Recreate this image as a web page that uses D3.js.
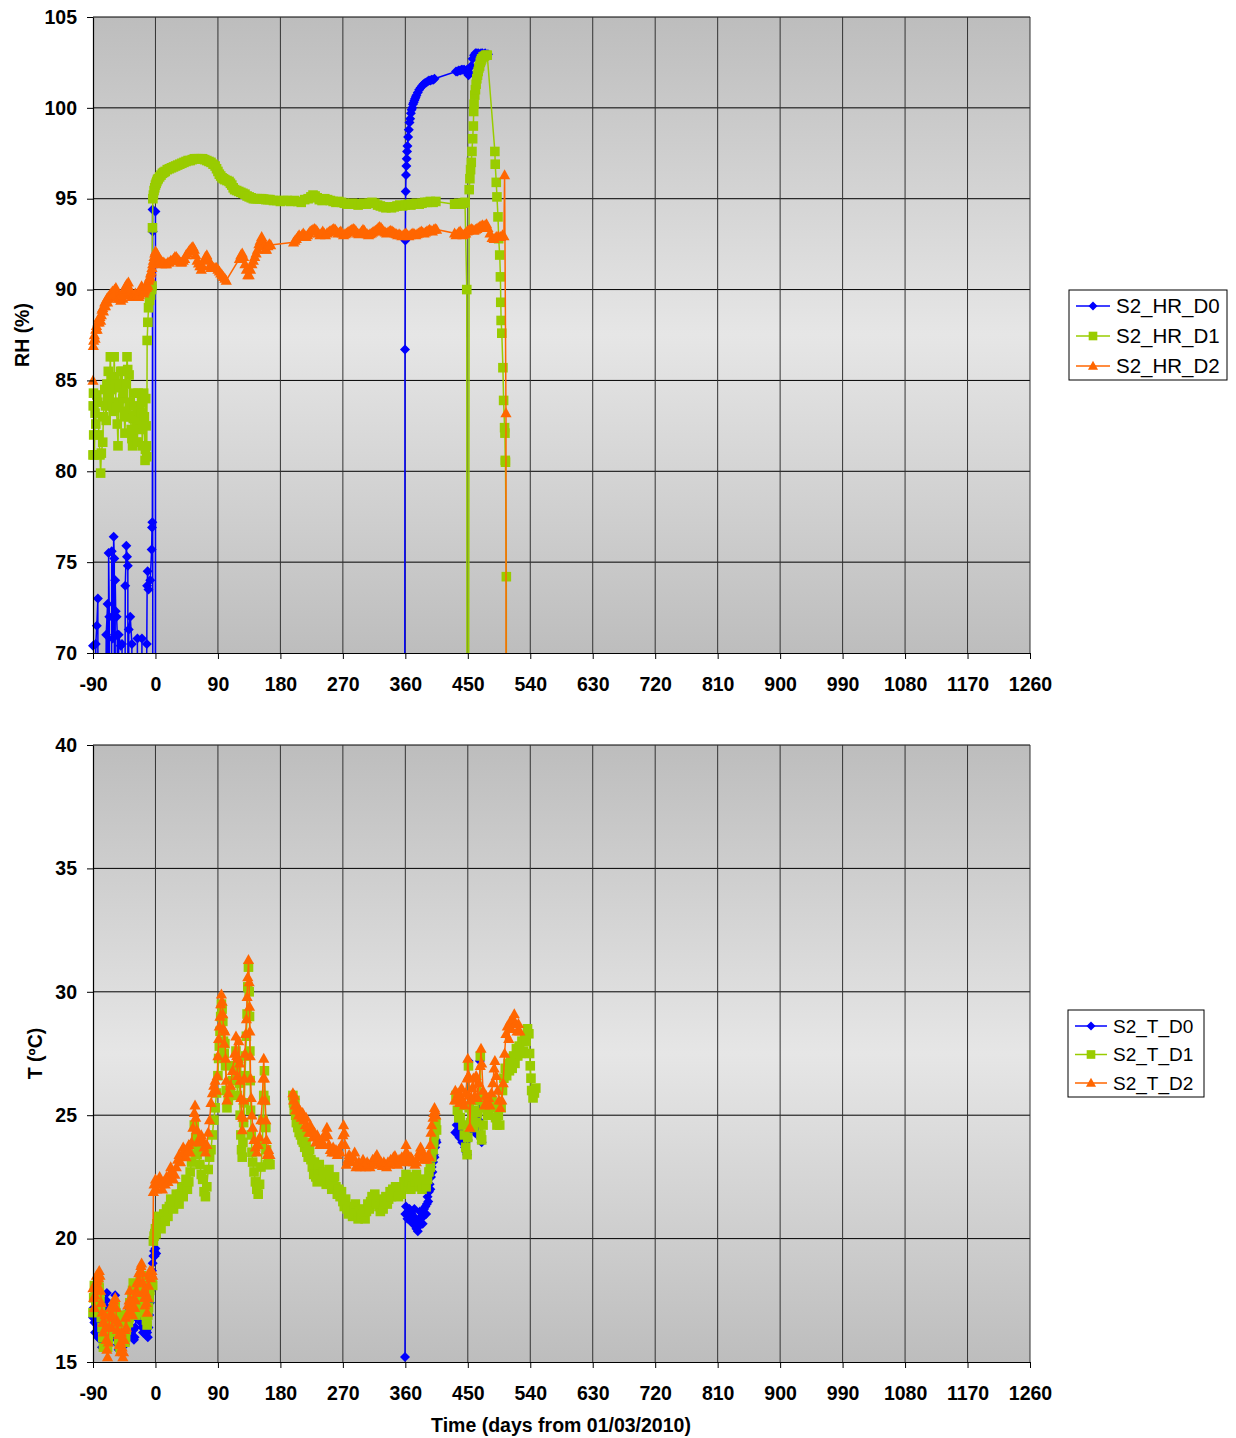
<!DOCTYPE html>
<html><head><meta charset="utf-8">
<script src="https://cdn.jsdelivr.net/npm/d3@7"></script>
<style>body{margin:0;background:#fff}</style>
</head><body>
<script>
// Axis ticks
const xTicks = [-90,0,90,180,270,360,450,540,630,720,810,900,990,1080,1170,1260];
const rhTicks = [70,75,80,85,90,95,100,105];
const tTicks = [15,20,25,30,35,40];

// Relative humidity, [day, RH %]; null marks a gap in the record
const rhD0 = [[-90,70.4],[-89.5,0],[-86,70.5],[-84.5,71.5],[-83,73.0],[-82,0],[-78,0],[-71,71.0],[-69,72.7],[-68.5,0],[-67.5,75.5],[-66.5,72.0],[-65,0],[-63,75.6],[-61.5,70.8],[-60.2,76.4],[-59.3,75.2],[-58.8,0],[-58,74.0],[-57.3,72.3],[-56,72.0],[-55,71.0],[-54,0],[-53,71.0],[-50,70.4],[-48.2,70.5],[-47.5,0],[-43.5,73.7],[-42,75.9],[-41,75.3],[-39.8,74.8],[-39,0],[-38.5,71.3],[-36.3,72.0],[-34,70.5],[-33,0],[-26,70.8],[-25.3,0],[-19.5,70.8],[-18.5,0],[-12.5,70.5],[-12,73.7],[-11.3,74.5],[-10,73.5],[-7.5,74.0],[-5.5,75.7],[-5,76.9],[-4.5,77.2],[-4.2,94.4],[-4,93.2],[-3.7,0],[-0.3,0],[0,94.3],[0.4,0],
[1,null],
[358,0],[359.5,86.7],[360,92.7],[360.5,95.4],[361,96.3],[361.5,96.8],[362,97.2],[362.5,97.6],[363,97.9],[364,98.4],[365,98.8],[366,99.2],[367,99.4],[368,99.7],[369,99.9],[370,100.0],[371,100.2],[372,100.3],[373,100.4],[374,100.5],[375,100.6],[376,100.7],[378,100.85],[380,101.0],[382,101.1],[384,101.2],[386,101.3],[388,101.35],[390,101.4],[392,101.45],[394,101.5],[396,101.5],[398,101.55],[400,101.55],[402,101.6],[433,102.0],[435,102.0],[437,102.05],[439,102.05],[441,102.1],[443,102.1],[445,102.1],[447,102.0],[449,102.1],[451,101.8],[453,101.9],[455,102.3],[457,102.7],[459,102.9],[461,103.0],[463,103.0],[465,103.0],[467,102.95],[469,103.0],[471,103.0],[473,102.9],[475,103.0],[477,102.9],[479,102.95]];

const rhD1 = [[-90,80.9],[-89.7,83.6],[-89.3,84.3],[-89,82.0],[-88,80.9],[-87,83.2],[-86,82.6],[-84.5,84.2],[-83,83.8],[-81.5,82.0],[-80,80.9],[-79,79.9],[-78,81.0],[-76,81.6],[-75,83.0],[-73,84.5],[-72,83.6],[-71,82.8],[-70,84.8],[-69,84.0],[-68,85.5],[-67,84.2],[-65,86.3],[-64,85.0],[-63,84.5],[-62,83.6],[-61,83.3],[-59.5,86.3],[-58.5,85.2],[-58,84.8],[-56.5,83.5],[-55,82.6],[-54,81.4],[-53,83.8],[-52,84.6],[-50,85.5],[-49,84.8],[-48,85.5],[-47,84.0],[-46,84.3],[-45,83.0],[-44,82.1],[-43,83.3],[-42,84.8],[-41,86.3],[-40,85.6],[-38,85.3],[-37,83.8],[-36,83.0],[-35,82.3],[-34,81.8],[-33,81.4],[-32,82.9],[-31,84.3],[-30,83.6],[-29,83.1],[-28,82.4],[-27,81.6],[-26,81.6],[-25,84.3],[-24,83.5],[-23,82.8],[-22,82.3],[-21,83.2],[-20,83.8],[-19,81.4],[-18,82.6],[-17,84.3],[-16,83.0],[-15,80.6],[-14.5,81.2],[-14,84.0],[-13.5,82.5],[-13,81.4],[-12.5,80.8],[-12,87.2],[-11,88.2],[-10,89.0],[-8.5,89.4],[-7,89.7],[-5.5,90.0],[-5,90.2],[-4.3,93.4],[-3.8,95.0],
[-3,95.2],[-2,95.45],[-1,95.6],[0,95.75],[1,95.85],[2,95.95],[3,96.05],[4,96.1],[6,96.2],[8,96.3],[10,96.4],[12,96.45],[14,96.5],[17,96.6],[20,96.65],[23,96.7],[26,96.75],[29,96.8],[32,96.85],[35,96.9],[38,96.95],[41,97.0],[44,97.05],[47,97.1],[50,97.1],[53,97.15],[56,97.2],[59,97.2],[62,97.2],[65,97.2],[68,97.2],[71,97.15],[74,97.1],[77,97.05],[80,97.0],[83,96.9],[86,96.8],[88,96.65],[90,96.5],[92,96.35],[94,96.25],[96,96.15],[98,96.1],[100,96.05],[103,96.0],[106,95.95],[108,95.85],[110,95.75],[112,95.6],[114,95.5],[117,95.45],[120,95.4],[123,95.35],[126,95.3],[129,95.25],[132,95.15],[135,95.1],[138,95.05],[141,95.0],[144,95.0],[147,95.0],[150,95.0],[153,95.0],[156,94.98],[159,94.95],[162,94.95],[165,94.95],
[170,94.9],[175,94.9],[180,94.85],[185,94.9],[190,94.9],[195,94.85],[200,94.9],[205,94.85],[210,94.8],[215,94.95],[220,95.0],[224,95.1],[227,95.2],[230,95.15],[233,95.05],[236,94.95],[240,94.9],[244,95.0],[248,94.95],[252,94.9],[256,94.85],[260,94.8],[264,94.85],[268,94.8],[272,94.75],[276,94.7],[280,94.7],[284,94.75],[288,94.7],[292,94.65],[296,94.7],[300,94.75],[304,94.7],[308,94.75],[312,94.8],[316,94.75],[320,94.65],[324,94.6],[328,94.55],[332,94.5],[336,94.55],[340,94.5],[344,94.55],[348,94.6],[352,94.65],[356,94.6],[360,94.65],[364,94.7],[368,94.65],[372,94.7],[376,94.75],[380,94.7],[384,94.75],[388,94.8],[392,94.8],[396,94.85],[400,94.8],[404,94.85],
[431,94.7],[434,94.7],[437,94.75],[440,94.7],[443,94.75],[446,94.8],[448.5,90.0],[449.5,0],[452,95.5],[453,96.1],[454,96.6],[455,97.0],[456,97.6],[457,98.3],[458,99.0],[458.5,99.8],[459,100.2],[460,100.7],[461,101.0],[462,101.3],[463,101.6],[464,101.8],[465,102.0],[466,102.2],[467,102.3],[468,102.5],[469,102.6],[470,102.7],[472,102.8],[474,102.85],[476,102.9],[478,102.9],
[489,97.6],[489.5,96.9],[491,95.9],[492,95.1],[493.5,94.0],[494.5,92.8],[496,91.9],[497,90.7],[497.5,89.3],[498,88.3],[499,87.6],[500.6,85.7],[501.6,83.9],[503,82.4],[503.5,82.1],[504,80.6],[504.3,80.5],[505.5,74.2],[506,0]];

const rhD2 = [[-90,85.0],[-89.5,86.9],[-89,87.2],[-88,87.5],[-87,87.3],[-86,87.8],[-85,88.0],[-84,87.8],[-83,88.2],[-82,88.4],[-81,88.2],[-80,88.5],[-79,88.3],[-78,88.6],[-77,88.9],[-76,89.0],[-75,88.8],[-74,89.1],[-73,89.3],[-72,89.1],[-71,89.4],[-70,89.5],[-69,89.3],[-68,89.6],[-67,89.5],[-66,89.7],[-65,89.6],[-64,89.8],[-63,89.7],[-62,89.9],[-61,89.7],[-60,89.8],[-59,90.0],[-58,89.9],[-57,90.1],[-56,89.9],[-55,89.7],[-54,89.6],[-53,89.5],[-52,89.6],[-51,89.5],[-50,89.4],[-49,89.6],[-48,89.8],[-47,89.5],[-46,89.7],[-45,89.9],[-44,90.0],[-43,90.2],[-42,90.1],[-41,90.3],[-40,90.2],[-39,90.4],[-38,90.1],[-37,89.9],[-36,89.8],[-35,89.7],[-34,89.6],[-33,89.7],[-32,89.6],[-31,89.7],[-30,89.6],[-29,89.8],[-28,89.7],[-27,89.6],[-26,89.7],[-25,89.8],[-24,89.6],[-23,89.7],[-22,89.9],[-21,90.0],[-20,90.2],[-19,90.1],[-18,89.9],[-17,89.8],[-16,89.9],[-15,90.0],[-14,90.2],[-13,90.1],[-12,90.3],[-11,90.2],[-10,90.5],[-9,90.6],[-8,90.7],[-7,90.9],[-6,91.0],[-5,91.2],[-4,91.4],[-3,91.6],[-2,91.8],[-1,92.0],[0,92.1],[1,91.9],[2,92.0],[3,91.7],[4,91.6],[5,91.5],[6,91.6],[7,91.5],[8,91.6],[9,91.4],[10,91.5],[12,91.5],[14,91.4],[16,91.4],[18,91.5],[20,91.5],[22,91.6],[24,91.6],[26,91.7],[28,91.8],[30,91.8],[32,91.7],[34,91.6],[36,91.5],[38,91.5],[40,91.6],[42,91.7],[44,91.9],[46,92.0],[48,92.1],[50,92.2],[52,92.3],[54,92.35],[56,92.2],[58,91.9],[60,91.6],[62,91.45],[64,91.3],[66,91.1],[68,91.3],[70,91.6],[72,91.8],[74,91.9],[76,91.7],[78,91.3],[80,91.2],[82,91.25],[84,91.2],[86,91.2],[88,91.2],[90,91.1],[92,91.0],[94,90.9],[96,90.8],[98,90.7],[100,90.6],[102,90.5],[121,91.7],[123,91.9],[125,92.0],[127,91.8],[129,91.4],[131,91.1],[133,90.8],[135,90.8],[137,91.1],[139,91.4],[141,91.6],[143,91.8],[145,92.0],[147,92.2],[149,92.5],[151,92.7],[153,92.9],[155,92.7],[157,92.4],[158,92.2],[160,92.2],[162,92.4],[164,92.5],[166,92.45],
[199,92.6],[201,92.7],[203,92.8],[205,92.9],[207,93.0],[209,92.9],[211,93.0],[213,93.1],[215,93.0],[217,92.9],[219,93.0],[221,93.1],[223,93.2],[225,93.25],[227,93.3],[229,93.35],[231,93.3],[233,93.2],[235,93.1],[237,93.0],[239,93.1],[241,93.2],[243,93.1],[245,93.0],[247,93.1],[249,93.15],[251,93.2],[253,93.25],[255,93.3],[257,93.35],[259,93.3],[261,93.2],[263,93.1],[265,93.15],[267,93.2],[269,93.1],[271,93.0],[273,93.05],[275,93.1],[277,93.15],[279,93.2],[281,93.25],[283,93.3],[285,93.35],[287,93.3],[289,93.2],[291,93.1],[293,93.05],[295,93.1],[297,93.2],[299,93.3],[301,93.25],[303,93.1],[305,93.05],[307,93.0],[309,93.05],[311,93.1],[313,93.15],[315,93.2],[317,93.25],[319,93.3],[321,93.4],[323,93.45],[325,93.4],[327,93.3],[329,93.2],[331,93.15],[333,93.1],[335,93.15],[337,93.2],[339,93.25],[341,93.2],[343,93.15],[345,93.1],[347,93.05],[349,93.0],[351,93.05],[353,93.0],[355,92.95],[357,93.0],[359,93.05],[361,93.1],[363,93.0],[365,92.95],[367,93.0],[369,93.05],[371,93.1],[373,93.05],[375,93.0],[377,93.05],[379,93.1],[381,93.15],[383,93.2],[385,93.15],[387,93.1],[389,93.15],[391,93.2],[393,93.25],[395,93.3],[397,93.25],[399,93.2],[401,93.3],[403,93.35],[405,93.3],
[431,93.1],[433,93.0],[435,93.05],[437,93.15],[439,93.2],[441,93.1],[443,93.0],[445,93.05],[447,93.1],[449,93.2],[451,93.25],[453,93.3],[455,93.35],[457,93.3],[459,93.25],[461,93.3],[463,93.35],[465,93.4],[467,93.45],[469,93.5],[471,93.55],[473,93.5],[475,93.55],[477,93.6],[479,93.4],[482,93.1],[485,92.85],[488,92.8],[491,92.9],[494,92.95],[497,92.9],[500,93.0],[502,92.95],[503,96.3],[505,83.2],[506,0]];

// Temperature, [day, T ºC]
const tD0 = [[-90,16.8],[-89,17.2],[-88,16.6],[-87,16.2],[-86,16.7],[-85,17.1],[-84,16.5],[-83,16.0],[-82,16.4],[-81,16.9],[-80,16.3],[-79,15.9],[-78,16.0],[-77,15.6],[-76,15.9],[-75,16.4],[-74,16.8],[-73,17.3],[-72,17.0],[-71,17.5],[-70,17.8],[-69,16.9],[-68,16.2],[-67,15.7],[-66,15.9],[-65,16.3],[-64,16.8],[-63,16.4],[-62,16.0],[-61,16.5],[-60,17.0],[-59,17.4],[-58,17.7],[-57,17.1],[-56,16.6],[-55,16.1],[-54,15.7],[-53,15.5],[-52,15.9],[-51,16.2],[-50,15.8],[-49,15.5],[-48,15.6],[-47,16.0],[-46,16.5],[-45,16.1],[-44,15.7],[-43,16.2],[-42,16.6],[-41,17.0],[-40,16.6],[-39,16.2],[-38,16.5],[-37,16.9],[-36,17.3],[-35,16.8],[-34,16.4],[-33,16.0],[-32,16.3],[-31,15.9],[-30,16.0],[-29,16.4],[-28,16.8],[-27,17.2],[-26,16.9],[-25,17.4],[-24,17.8],[-23,17.4],[-22,17.0],[-21,16.6],[-20,16.8],[-19,16.4],[-18,16.2],[-17,16.5],[-16,16.8],[-15,16.4],[-14,16.1],[-13,16.3],[-12,16.2],[-11,16.0],[-10,16.4],[-9,16.9],[-8,17.4],[-7,17.9],[-6,18.3],[-5,18.7],[-4,19.0],[-3,19.3],[-2,19.5],[-1,19.3],[0,19.6],[1,19.4],
[2,null],
[359.5,15.2],[360,21.0],[361,21.3],[362,21.0],[363,20.8],[364,21.1],[365,20.9],[366,21.2],[367,20.9],[368,20.7],[369,21.0],[370,20.8],[371,20.6],[372,20.9],[373,21.2],[374,20.8],[375,20.5],[376,20.4],[377,20.6],[378,20.3],[379,20.5],[380,20.8],[381,21.1],[382,20.8],[383,20.6],[384,20.9],[385,20.6],[386,20.9],[387,21.2],[388,21.0],[389,21.3],[390,21.0],[391,21.4],[392,21.7],[393,21.5],[394,21.9],[395,22.2],[396,22.0],[397,22.5],[398,22.9],[399,22.7],[400,23.1],[401,23.4],[402,23.3],[403,23.7],[404,24.0],[405,23.9],
[406,null],
[432,24.3],[434,24.6],[436,24.4],[438,24.1],[440,24.3],[442,23.9],[444,24.0],[446,23.7],[448,23.5],[449,23.4],[450,24.0],[451,27.2],[452,24.6],[454,24.8],[456,24.4],[458,24.9],[460,24.3],[462,24.6],[464,24.2],[466,24.8],[467.5,27.2],[468.5,24.1],[470,23.9]];

const tD1 = [[-90,17.0],[-89,17.6],[-88,18.1],[-87,17.8],[-86,17.5],[-85,17.2],[-84,17.4],[-83,17.9],[-82,18.3],[-81,18.0],[-80,17.6],[-79,17.2],[-78,16.8],[-77,16.4],[-76,16.0],[-75,15.6],[-74,16.3],[-73,16.7],[-72,16.9],[-71,16.7],[-70,16.5],[-69,15.6],[-68,15.9],[-67,16.2],[-66,16.5],[-65,16.7],[-64,16.9],[-63,16.6],[-62,16.3],[-61,16.5],[-60,16.8],[-59,17.1],[-58,17.3],[-57,17.0],[-56,16.6],[-55,16.4],[-54,16.2],[-53,15.9],[-52,15.7],[-51,15.6],[-50,15.5],[-49,16.0],[-48,16.4],[-47,16.7],[-46,16.9],[-45,16.5],[-44,15.8],[-43,16.0],[-42,16.3],[-41,16.6],[-40,16.9],[-39,16.6],[-38,16.8],[-37,17.4],[-36,17.0],[-35,17.3],[-34,17.6],[-33,17.9],[-32,18.2],[-31,17.8],[-30,17.4],[-29,17.1],[-28,16.9],[-27,17.0],[-26,17.2],[-25,17.5],[-24,17.8],[-23,18.0],[-22,18.3],[-21,18.4],[-20,18.5],[-19,18.1],[-18,17.8],[-17,17.5],[-16,17.3],[-15,17.1],[-14,16.9],[-13,16.7],[-12,16.5],[-11,16.9],[-10,17.2],[-9,17.6],[-8,17.9],[-7,18.2],[-6,18.3],[-5,18.2],[-4,18.1],[-3,19.9],[-2,20.1],[-1,20.2],[0,20.4],[1,20.2],
[2,20.6],[4,20.9],[6,20.6],[8,20.4],[10,20.8],[12,21.0],[14,20.7],[16,21.2],[18,20.9],[20,21.3],[22,21.6],[24,21.4],[26,21.2],[28,21.5],[30,21.8],[32,21.6],[34,21.4],[36,21.8],[38,22.1],[40,21.7],[42,22.0],[44,22.4],[46,22.0],[48,22.3],[50,22.7],[52,23.1],[54,23.8],[56,24.6],[58,24.1],[60,23.4],[62,23.6],[64,23.0],[66,22.6],[68,22.4],[70,21.9],[72,21.7],[74,22.1],[76,22.8],[78,23.3],[80,23.6],[82,24.2],[84,24.8],[86,25.3],[88,25.9],[90,26.6],[91,27.3],[92,27.8],[93,28.4],[94,29.0],[95,29.5],[96,29.3],[97,28.8],[98,28.0],[99,27.5],[100,27.9],[101,27.0],[102,26.0],[103,25.3],[105,25.6],[108,25.9],[111,26.4],[114,27.0],[116,27.6],[117,26.8],[118,25.8],[119,26.5],[120,27.2],[121,26.3],[122,25.0],[123,24.2],[124,23.6],[125,23.3],[126,23.9],[127,24.7],[128,25.5],[129,26.6],[130,27.4],[131,28.2],[132,29.1],[133,30.2],[134,31.0],[135,30.0],[135.5,29.0],[136,27.6],[136.5,26.4],[137,25.2],[138,24.2],[139,23.5],[140,23.1],[142,22.7],[144,22.3],[146,22.0],[148,21.8],[150,22.2],[152,22.9],[154,23.8],[155,24.8],[156,25.8],[157,26.8],[158,25.6],[159,24.5],[160,23.6],[161,23.0],[163,23.2],[165,23.0],
[166,null],
[198,25.8],[199,25.5],[200,25.2],[201,25.6],[202,25.0],[203,24.7],[205,24.5],[206,24.9],[207,24.3],[209,24.2],[211,24.0],[212,24.3],[213,23.9],[215,23.7],[217,23.9],[218,23.5],[220,23.3],[222,23.6],[224,23.2],[226,22.9],[228,22.6],[229,23.1],[231,22.5],[233,22.3],[235,22.8],[236,23.0],[238,22.6],[240,22.4],[242,22.7],[244,22.5],[246,22.2],[248,22.4],[250,22.8],[252,22.3],[254,22.0],[256,22.2],[258,22.5],[260,22.1],[262,21.8],[264,22.0],[266,21.7],[268,21.9],[270,21.5],[272,21.3],[274,21.6],[276,21.2],[278,21.0],[280,21.3],[282,21.1],[284,20.9],[286,21.2],[288,21.4],[290,21.0],[292,20.8],[294,21.1],[296,20.9],[298,21.2],[300,21.0],[302,20.8],[304,21.1],[306,21.4],[308,21.2],[310,21.5],[312,21.7],[314,21.6],[316,21.8],[318,21.4],[320,21.6],[322,21.3],[324,21.1],[326,21.4],[328,21.2],[330,21.5],[332,21.7],[334,21.4],[336,21.6],[338,21.9],[340,21.7],[342,22.0],[344,21.8],[346,22.1],[348,21.9],[350,21.7],[352,22.0],[354,21.8],[356,22.1],[358,22.3],[360,22.1],[361,22.6],[362,22.4],[364,22.1],[366,22.3],[368,22.0],[370,22.2],[372,22.5],[374,22.3],[376,22.6],[378,22.4],[380,22.1],[382,22.3],[384,22.0],[386,22.2],[388,22.4],[390,22.1],[392,22.4],[394,22.7],[396,22.9],[398,23.3],[400,23.6],[401,23.9],[402,24.2],[403,24.5],[404,24.7],[405,24.4],
[406,null],
[433,25.8],[435,25.2],[437,24.9],[439,24.9],[441,25.4],[443,24.6],[445,24.2],[447,23.7],[449,23.4],[450,24.1],[451,27.0],[452,25.3],[454,24.7],[456,25.0],[458,24.5],[460,25.2],[462,24.7],[464,25.1],[466,25.6],[468,27.4],[469,24.2],[470,24.0],[472,24.6],[474,25.3],[476,25.7],[478,25.2],[480,25.0],[482,25.4],[485,25.6],[488,25.3],[490,24.9],[492,24.6],[494,25.0],[496,24.6],[498,25.3],[500,26.0],[502,26.5],[504,26.9],[506,26.6],[508,27.1],[510,26.8],[512,27.3],[514,26.9],[516,27.4],[518,27.1],[520,27.7],[522,27.4],[524,27.8],[526,27.5],[528,28.0],[530,27.6],[532,28.2],[534,28.0],[536,28.5],[538,28.3],[539,27.5],[540,27.0],[541,26.5],[542,26.0],[544,25.7],[546,25.9],[548,26.1]];

const tD2 = [[-90,18.0],[-89,17.6],[-88,17.2],[-87,17.7],[-86,18.2],[-85,18.5],[-84,18.3],[-83,17.9],[-82,18.4],[-81,18.7],[-80,18.5],[-79,17.9],[-78,17.4],[-77,17.0],[-76,16.6],[-75,16.2],[-74,16.6],[-73,16.9],[-72,16.4],[-71,15.9],[-70,15.5],[-69,15.2],[-68,15.8],[-67,16.4],[-66,16.9],[-65,17.2],[-64,16.8],[-63,16.4],[-62,16.9],[-61,17.2],[-60,17.5],[-59,17.3],[-58,17.6],[-57,17.2],[-56,16.7],[-55,16.3],[-54,16.6],[-53,16.1],[-52,15.7],[-51,15.4],[-50,15.8],[-49,16.2],[-48,15.6],[-47,15.2],[-46,15.4],[-45,15.9],[-44,16.3],[-43,16.8],[-42,16.4],[-41,16.9],[-40,17.3],[-39,17.0],[-38,17.5],[-37,17.9],[-36,17.5],[-35,17.0],[-34,17.3],[-33,16.9],[-32,17.3],[-31,17.6],[-30,17.2],[-29,17.5],[-28,17.9],[-27,18.2],[-26,17.8],[-25,18.3],[-24,18.6],[-23,18.3],[-22,18.7],[-21,18.9],[-20,19.0],[-19,18.6],[-18,18.2],[-17,17.9],[-16,17.6],[-15,17.3],[-14,17.8],[-13,17.4],[-12,17.0],[-11,17.6],[-10,18.1],[-9,18.5],[-8,18.7],[-7,18.4],[-6,18.6],[-5,18.7],[-4,18.5],[-3,21.9],[-2,22.2],[0,22.4],[2,22.0],[4,22.3],[6,22.5],[8,22.2],[10,22.0],[12,22.3],[14,22.2],[16,22.5],[18,22.3],[20,22.6],[22,22.9],[24,22.7],[26,22.4],[28,22.6],[30,22.9],[32,23.2],[34,23.4],[36,23.1],[38,23.4],[40,23.7],[42,23.6],[44,23.3],[46,23.5],[48,23.8],[50,23.5],[52,23.9],[54,24.5],[56,25.1],[57,25.4],[58,24.9],[60,24.4],[62,24.0],[64,23.9],[66,24.2],[68,24.0],[70,23.7],[72,23.5],[74,23.8],[76,24.3],[78,24.8],[80,25.5],[82,25.9],[84,26.2],[86,26.4],[88,26.0],[89,26.6],[90,27.4],[91,28.1],[92,28.6],[93,29.0],[94,29.5],[95,29.9],[96,29.6],[97,29.1],[98,28.5],[99,27.9],[100,28.4],[101,27.3],[102,26.4],[103,25.6],[105,25.9],[108,26.2],[111,26.8],[114,27.5],[116,28.2],[117,27.4],[118,26.6],[119,27.3],[120,28.0],[121,27.1],[122,26.4],[123,25.7],[124,25.0],[125,24.4],[126,24.9],[127,25.6],[128,26.5],[129,27.5],[130,28.3],[131,28.9],[132,29.8],[133,30.6],[134,31.3],[135,30.4],[135.5,29.4],[136,28.4],[136.5,27.4],[137,26.5],[138,25.7],[139,25.0],[140,24.5],[142,24.0],[144,23.7],[146,23.5],[148,23.8],[150,24.1],[152,24.8],[154,25.6],[155,26.5],[156,27.3],[157,26.5],[158,25.6],[159,24.8],[160,24.0],[161,23.4],[163,23.6],[165,23.4],
[166,null],
[198,25.9],[199,25.6],[200,25.8],[201,25.4],[202,25.2],[204,25.4],[206,25.0],[208,25.2],[210,24.9],[212,25.1],[214,24.8],[216,24.6],[217,24.9],[219,24.5],[221,24.3],[223,24.6],[225,24.3],[227,24.1],[229,24.3],[231,23.9],[233,24.2],[235,24.0],[237,23.8],[239,24.0],[241,23.85],[243,24.1],[245,24.3],[247,24.5],[248,24.2],[250,23.8],[252,23.6],[254,23.5],[256,23.7],[258,23.5],[260,23.6],[262,23.4],[264,23.6],[266,23.5],[268,23.8],[270,24.2],[271,24.6],[272,24.3],[273,23.8],[275,23.0],[277,23.2],[279,23.4],[281,23.3],[283,23.1],[285,23.3],[287,23.5],[289,22.9],[291,23.0],[293,23.1],[295,22.9],[297,23.0],[299,23.2],[301,23.0],[303,22.9],[305,23.1],[307,23.0],[309,22.9],[311,23.0],[313,23.2],[315,23.1],[317,23.3],[319,23.4],[321,23.2],[323,23.0],[325,23.1],[327,22.95],[329,23.1],[331,23.0],[333,22.9],[335,23.1],[337,23.0],[339,23.2],[341,23.1],[343,23.3],[345,23.35],[347,23.1],[349,23.0],[351,23.2],[353,23.1],[355,23.3],[357,23.2],[359,23.4],[361,23.8],[362,23.5],[364,23.2],[366,23.1],[368,23.3],[370,23.2],[372,23.1],[374,23.0],[376,23.1],[378,23.3],[380,23.5],[382,23.7],[383,23.6],[385,23.3],[387,23.2],[389,23.3],[391,23.2],[393,23.4],[395,23.3],[396,23.8],[397,24.3],[398,24.6],[400,24.9],[401,25.1],[402,25.3],[403,25.2],[404,25.0],
[406,null],
[431,25.6],[432,26.0],[434,25.6],[436,25.9],[438,25.5],[439,25.7],[441,26.1],[443,25.6],[445,25.4],[447,25.9],[449,26.5],[450,27.3],[451,26.6],[452,25.8],[453,24.5],[454,25.6],[456,26.1],[458,26.5],[460,25.8],[462,26.6],[464,25.7],[466,26.3],[468,27.0],[469,27.7],[470,27.1],[472,26.0],[474,25.4],[476,25.8],[478,25.5],[480,25.7],[482,25.4],[484,25.9],[486,26.3],[488,26.9],[489,27.2],[491,26.6],[493,26.0],[495,25.6],[497,25.3],[499,25.6],[501,26.3],[503,27.5],[505,28.3],[507,28.6],[509,28.1],[511,28.8],[513,28.5],[515,28.9],[517,29.1],[519,28.7],[521,28.4],[523,28.7],[525,28.4]];

const rhNames = ['S2_HR_D0','S2_HR_D1','S2_HR_D2'];
const tNames = ['S2_T_D0','S2_T_D1','S2_T_D2'];
const colors = ['#0000FF','#99CC00','#FF6600'];

// Marker shapes: diamond, square, triangle
const markers = [
  'M0,-5L5,0L0,5L-5,0Z',
  'M-4.8,-4.8H4.8V4.8H-4.8Z',
  'M0,-5.8L5.6,4.2H-5.6Z'
];

const W = 1236, H = 1438;
const svg = d3.select('body').append('svg').attr('width', W).attr('height', H)
  .style('font-family', 'Arial, "Liberation Sans", sans-serif');
const defs = svg.append('defs');
const grad = defs.append('linearGradient').attr('id', 'bg').attr('x1', 0).attr('y1', 0).attr('x2', 0).attr('y2', 1);
grad.append('stop').attr('offset', '0%').attr('stop-color', '#bdbdbd');
grad.append('stop').attr('offset', '50%').attr('stop-color', '#e6e6e6');
grad.append('stop').attr('offset', '100%').attr('stop-color', '#bdbdbd');

const left = 93, right = 1030;

function panel(cfg) {
  const { top, bottom, domain, yTicks, series, names, yTitle, yTitleX, legend } = cfg;
  const x = d3.scaleLinear().domain([-90, 1260]).range([left, right]);
  const y = d3.scaleLinear().domain(domain).range([bottom, top]);
  const clipId = 'clip' + top;
  defs.append('clipPath').attr('id', clipId).append('rect')
    .attr('x', left).attr('y', top).attr('width', right - left).attr('height', bottom - top);

  const g = svg.append('g');
  g.append('rect').attr('x', left).attr('y', top).attr('width', right - left).attr('height', bottom - top)
    .attr('fill', 'url(#bg)');

  // grid
  g.selectAll(null).data(yTicks.slice(1)).join('line')
    .attr('x1', left).attr('x2', right).attr('y1', d => y(d)).attr('y2', d => y(d))
    .attr('stroke', '#000').attr('stroke-width', 1);
  g.selectAll(null).data(xTicks.slice(1)).join('line')
    .attr('x1', d => x(d)).attr('x2', d => x(d)).attr('y1', top).attr('y2', bottom)
    .attr('stroke', '#333').attr('stroke-width', 1);

  // series
  const line = d3.line().defined(d => d[1] !== null).x(d => x(d[0])).y(d => y(d[1]));
  series.forEach((data, i) => {
    const s = g.append('g');
    s.append('path').attr('d', line(data)).attr('fill', 'none')
      .attr('stroke', colors[i]).attr('stroke-width', 1.5).attr('clip-path', `url(#${clipId})`);
    const pts = data.filter(d => d[1] !== null && d[1] >= domain[0] && d[1] <= domain[1]);
    s.selectAll(null).data(pts).join('path').attr('d', markers[i])
      .attr('transform', d => `translate(${x(d[0])},${y(d[1])})`).attr('fill', colors[i]);
  });

  // axes
  const ax = g.append('g').attr('transform', `translate(0,${bottom})`)
    .call(d3.axisBottom(x).tickValues(xTicks).tickFormat(d => String(d)).tickSize(6).tickSizeOuter(0).tickPadding(18));
  const ay = g.append('g').attr('transform', `translate(${left},0)`)
    .call(d3.axisLeft(y).tickValues(yTicks).tickFormat(d => String(d)).tickSize(6).tickSizeOuter(0).tickPadding(10));
  [ax, ay].forEach(a => {
    a.select('.domain').attr('stroke', '#000').attr('stroke-width', 1.2);
    a.selectAll('.tick line').attr('stroke', '#000');
    a.selectAll('.tick text').attr('fill', '#000').style('font-size', '19.5px').style('font-weight', 'bold')
      .style('font-family', 'Arial, "Liberation Sans", sans-serif');
  });

  svg.append('text').attr('transform', `translate(${yTitleX},${(top + bottom) / 2}) rotate(-90)`)
    .attr('text-anchor', 'middle').style('font-size', '19.5px').style('font-weight', 'bold').text(yTitle);

  // legend
  const lg = svg.append('g');
  lg.append('rect').attr('x', legend.x).attr('y', legend.y).attr('width', legend.w).attr('height', legend.h)
    .attr('fill', '#fff').attr('stroke', '#000').attr('stroke-width', 1);
  names.forEach((n, i) => {
    const cy = legend.y + legend.first + i * legend.step;
    lg.append('line').attr('x1', legend.x + 7).attr('x2', legend.x + 7 + legend.lineW)
      .attr('y1', cy).attr('y2', cy).attr('stroke', colors[i]).attr('stroke-width', 1.5);
    lg.append('path').attr('d', markers[i]).attr('transform', `translate(${legend.x + 7 + legend.lineW / 2},${cy}) scale(0.9)`)
      .attr('fill', colors[i]);
    lg.append('text').attr('x', legend.x + legend.textX).attr('y', cy + legend.fs * 0.36)
      .style('font-size', legend.fs + 'px').text(n);
  });
}

panel({
  top: 17, bottom: 653, domain: [70, 105], yTicks: rhTicks,
  series: [rhD0, rhD1, rhD2], names: rhNames, yTitle: 'RH (%)', yTitleX: 29,
  legend: { x: 1069, y: 290, w: 158, h: 90, first: 16, step: 30, lineW: 34, textX: 47, fs: 20.5 }
});
panel({
  top: 745, bottom: 1362, domain: [15, 40], yTicks: tTicks,
  series: [tD0, tD1, tD2], names: tNames, yTitle: 'T (ºC)', yTitleX: 42,
  legend: { x: 1068, y: 1010, w: 136, h: 87, first: 16, step: 28.5, lineW: 32, textX: 45, fs: 19 }
});

svg.append('text').attr('x', 561).attr('y', 1432).attr('text-anchor', 'middle')
  .style('font-size', '19.5px').style('font-weight', 'bold').text('Time (days from 01/03/2010)');
</script>
</body></html>
